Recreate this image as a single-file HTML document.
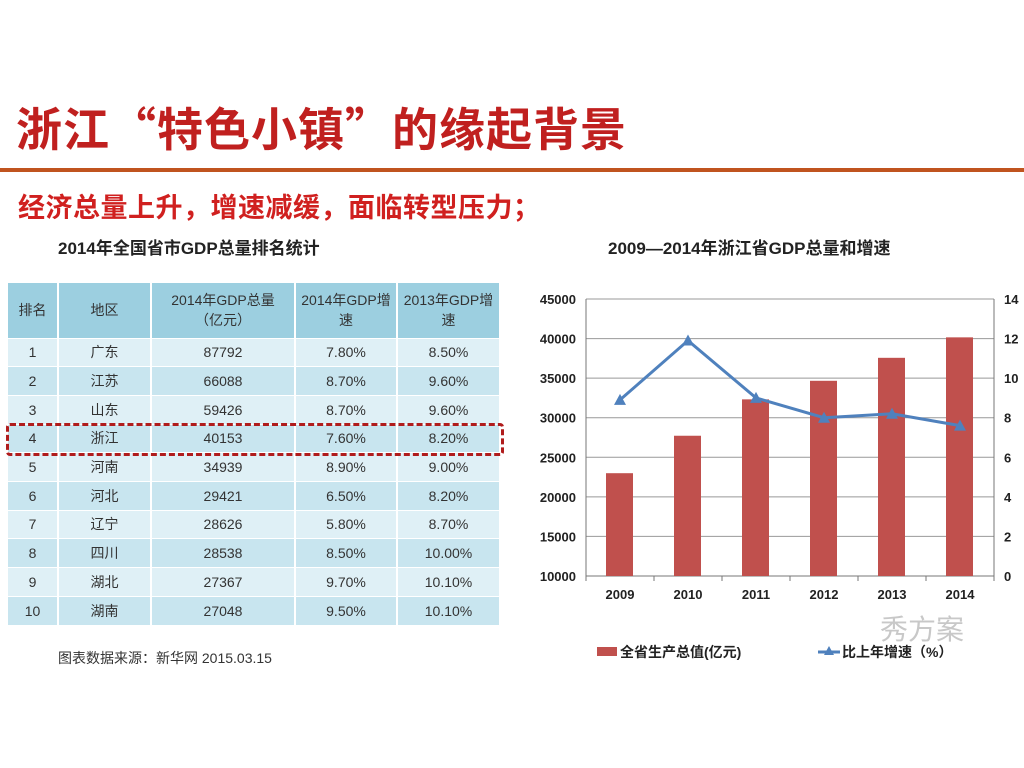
<!DOCTYPE html>
<html><head><meta charset="utf-8"><style>
body{margin:0;width:1024px;height:768px;background:#fff;position:relative;overflow:hidden;font-family:"Liberation Sans","Noto Sans CJK SC",sans-serif;}
.abs{position:absolute;}
.cjk{font-family:"Noto Sans CJK SC",sans-serif;}
table{border-collapse:collapse;position:absolute;left:8px;top:283px;width:492px;font-size:14px;color:#333;table-layout:fixed;}
td,th{text-align:center;padding:0;border-right:2px solid #fff;box-sizing:border-box;}
th{background:#9ccfe0;height:55px;font-weight:normal;line-height:20px;}
td{height:28.7px;border-top:1px solid #fff;}
tr:nth-child(odd) td{background:#c8e5ef;}
tr:nth-child(even) td{background:#dff0f6;}
</style></head><body>
<div class="abs cjk" style="left:16px;top:96px;font-size:46px;font-weight:bold;color:#c0201f;line-height:62px;letter-spacing:1px;">浙江“特色小镇”的缘起背景</div>
<div class="abs" style="left:0;top:168px;width:1024px;height:4px;background:#c0541f;"></div>
<div class="abs cjk" style="left:18px;top:187px;font-size:27px;font-weight:bold;color:#d0201f;line-height:38px;letter-spacing:0.5px;">经济总量上升，增速减缓，面临转型压力；</div>
<div class="abs" style="left:58px;top:234px;font-size:17px;font-weight:bold;color:#222;">2014年全国省市GDP总量排名统计</div>
<table>
<colgroup><col style="width:50px"><col style="width:93px"><col style="width:144px"><col style="width:102px"><col style="width:103px"></colgroup>
<tr><th>排名</th><th>地区</th><th>2014年GDP总量<br>（亿元）</th><th>2014年GDP增<br>速</th><th>2013年GDP增<br>速</th></tr>
<tr><td>1</td><td>广东</td><td>87792</td><td>7.80%</td><td>8.50%</td></tr>
<tr><td>2</td><td>江苏</td><td>66088</td><td>8.70%</td><td>9.60%</td></tr>
<tr><td>3</td><td>山东</td><td>59426</td><td>8.70%</td><td>9.60%</td></tr>
<tr><td>4</td><td>浙江</td><td>40153</td><td>7.60%</td><td>8.20%</td></tr>
<tr><td>5</td><td>河南</td><td>34939</td><td>8.90%</td><td>9.00%</td></tr>
<tr><td>6</td><td>河北</td><td>29421</td><td>6.50%</td><td>8.20%</td></tr>
<tr><td>7</td><td>辽宁</td><td>28626</td><td>5.80%</td><td>8.70%</td></tr>
<tr><td>8</td><td>四川</td><td>28538</td><td>8.50%</td><td>10.00%</td></tr>
<tr><td>9</td><td>湖北</td><td>27367</td><td>9.70%</td><td>10.10%</td></tr>
<tr><td>10</td><td>湖南</td><td>27048</td><td>9.50%</td><td>10.10%</td></tr>
</table>
<div class="abs" style="left:6px;top:423px;width:492px;height:27px;border:3px dashed #b01c1c;border-radius:4px;"></div>
<div class="abs" style="left:58px;top:648px;font-size:14px;color:#333;">图表数据来源：新华网 2015.03.15</div>
<div class="abs" style="left:608px;top:234px;font-size:17px;font-weight:bold;color:#222;">2009—2014年浙江省GDP总量和增速</div>
<svg class="abs" style="left:0;top:0" width="1024" height="768" id="chart"></svg>
<div class="abs" style="left:880px;top:608px;font-size:28px;color:#c8c8c8;">秀方案</div>
<script>
const years=["2009","2010","2011","2012","2013","2014"];
const gdp=[22990,27722,32319,34665,37568,40154];
const growth=[8.9,11.9,9.0,8.0,8.2,7.6];
const leftTicks=[10000,15000,20000,25000,30000,35000,40000,45000];
const rightTicks=[0,2,4,6,8,10,12,14];
const svg=document.getElementById('chart');
const NS='http://www.w3.org/2000/svg';
const X0=586,X1=994,Y0=576,Y1=299;
const yL=v=>Y0-(v-10000)/35000*(Y0-Y1);
const yR=v=>Y0-v/14*(Y0-Y1);
const step=(X1-X0)/years.length;
const xc=i=>X0+step*(i+0.5);
function mk(t,a,txt){const e=document.createElementNS(NS,t);for(const k in a)e.setAttribute(k,a[k]);if(txt!==undefined)e.textContent=txt;svg.appendChild(e);return e;}
leftTicks.forEach((v,i)=>{
 const g=mk('line',{x1:X0,x2:X1,y1:yL(v),y2:yL(v),stroke:i==0?'#777':'#999','stroke-width':1});
 
 
 const t=mk('text',{x:X0-10,y:yL(v)+5,'text-anchor':'end','font-size':13,'font-weight':'bold',fill:'#222'},v);
 
 
});
rightTicks.forEach(v=>{
 const t=mk('text',{x:X1+10,y:yR(v)+5,'font-size':13,'font-weight':'bold',fill:'#222'},v);
 
 
});
mk('line',{x1:X0,x2:X0,y1:Y1,y2:Y0+5,stroke:'#777'});
mk('line',{x1:X1,x2:X1,y1:Y1,y2:Y0+5,stroke:'#777'});
years.forEach((y,i)=>{
 mk('line',{x1:X0+step*i,x2:X0+step*i,y1:Y0,y2:Y0+5,stroke:'#777'});
 const b=mk('rect',{x:xc(i)-14,y:yL(gdp[i]),width:27,height:Y0-yL(gdp[i]),fill:'#c0504d'});
 
 
 const t=mk('text',{x:xc(i),y:Y0+23,'text-anchor':'middle','font-size':13,'font-weight':'bold',fill:'#222'},y);
 
 
});
const pl=mk('polyline',{points:growth.map((v,i)=>xc(i)+','+yR(v)).join(' '),fill:'none',stroke:'#4f81bd','stroke-width':3});


growth.forEach((v,i)=>{
 const x=xc(i),y=yR(v);
 const p=mk('polygon',{points:`${x},${y-6} ${x-6},${y+5} ${x+6},${y+5}`,fill:'#4f81bd'});
 
 
});
const lg1=mk('rect',{x:597,y:647,width:20,height:9,fill:'#c0504d'});


const lt1=mk('text',{x:620,y:657,'font-size':14,'font-weight':'bold',fill:'#222'},'全省生产总值(亿元)');


mk('line',{x1:818,x2:840,y1:652,y2:652,stroke:'#4f81bd','stroke-width':3});
mk('polygon',{points:'829,646 824,655 834,655',fill:'#4f81bd'});
const lt2=mk('text',{x:842,y:657,'font-size':14,'font-weight':'bold',fill:'#222'},'比上年增速（%）');


</script>
</body></html>
